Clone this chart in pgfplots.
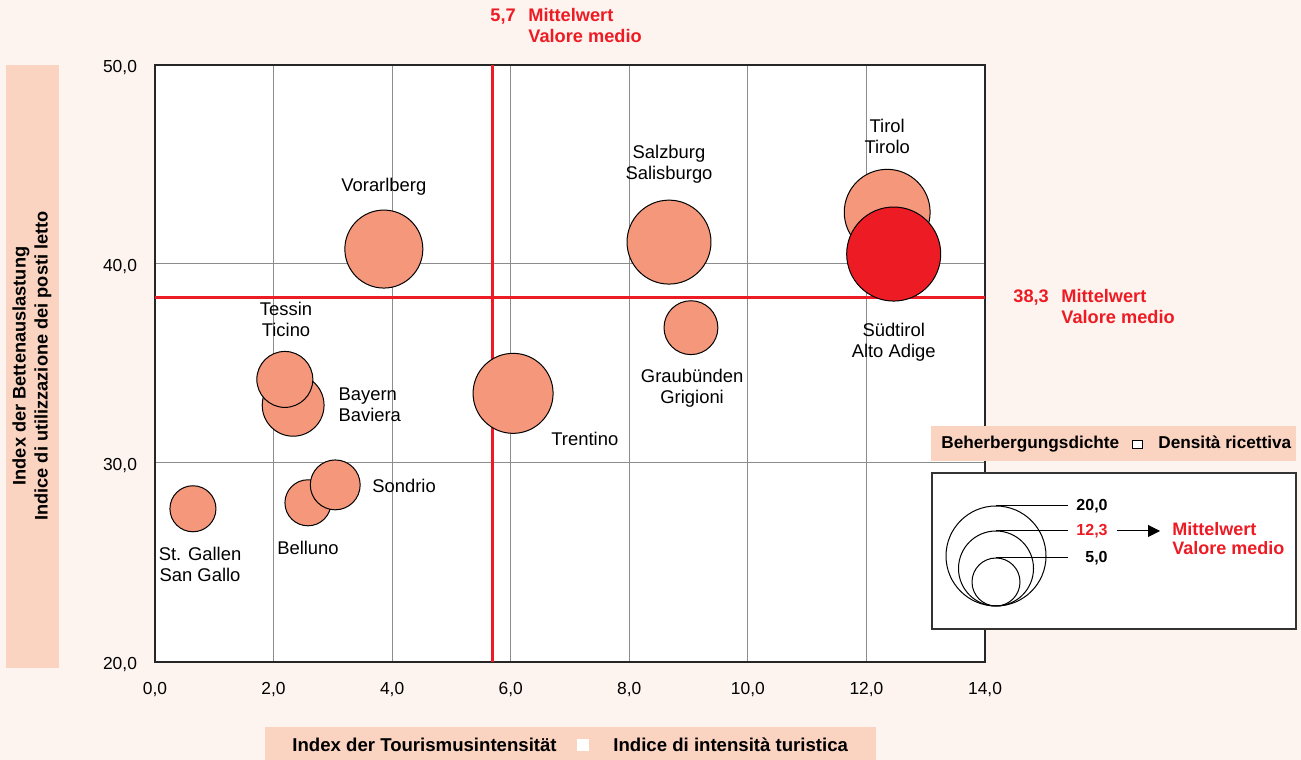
\documentclass[border=0pt]{standalone}
\usepackage{pgfplots}
\pgfplotsset{compat=1.18}
\usepackage{pgfplotstable}
\usepackage{fontspec}
\setmainfont{Liberation Sans}
\usetikzlibrary{arrows.meta}
\definecolor{bg}{HTML}{FEF4EF}
\definecolor{boxc}{HTML}{FBD3C1}
\definecolor{bub}{HTML}{F4977A}
\definecolor{mred}{HTML}{ED1C24}
\definecolor{gridc}{HTML}{8C8C8C}
\tikzset{lab/.style={font=\fontsize{9.2}{10.5}\selectfont, inner sep=0pt, align=center}}
\pgfplotstableread{
x y v
0.64 27.7 4.6
2.58 28.0 4.6
3.04 28.9 5.4
2.33 32.9 8.3
2.19 34.2 6.8
3.86 40.75 13.2
6.04 33.5 13.9
9.04 36.8 6.3
8.67 41.1 15.3
12.35 42.6 16.0
}\bubbles
\pgfplotstableread{
x y v
12.46 40.5 19.2
}\suedtirol
\begin{document}
\begin{tikzpicture}
\fill[bg] (0,0) rectangle (650.5pt,380pt);
\begin{scope}[x=0.5pt,y=-0.5pt,yshift=380pt]
% y label box
\fill[boxc] (6,65) rectangle (59,668);
\node[rotate=90,align=center,font=\fontsize{9.1}{11}\selectfont\bfseries] at (32,366)
  {Index der Bettenauslastung\\Indice di utilizzazione dei posti letto};
% x label box
\fill[boxc] (265,727) rectangle (876,760);
\node[anchor=base west,inner sep=0,font=\fontsize{9.3}{11}\selectfont\bfseries] at (292,751.5) {Index der Tourismusintensität};
\fill[white] (577,739) rectangle (589,751);
\node[anchor=base west,inner sep=0,font=\fontsize{9.3}{11}\selectfont\bfseries] at (613,751.5) {Indice di intensità turistica};
% mean annotations
\node[anchor=base west,inner sep=0,font=\fontsize{9.1}{11}\selectfont\bfseries,text=mred] at (490,22) {5,7};
\node[anchor=base west,inner sep=0,font=\fontsize{9.1}{11}\selectfont\bfseries,text=mred] at (528,22) {Mittelwert};
\node[anchor=base west,inner sep=0,font=\fontsize{9.1}{11}\selectfont\bfseries,text=mred] at (528,42.5) {Valore medio};
\node[anchor=base west,inner sep=0,font=\fontsize{9.1}{11}\selectfont\bfseries,text=mred] at (1013,302.5) {38,3};
\node[anchor=base west,inner sep=0,font=\fontsize{9.1}{11}\selectfont\bfseries,text=mred] at (1061,302.5) {Mittelwert};
\node[anchor=base west,inner sep=0,font=\fontsize{9.1}{11}\selectfont\bfseries,text=mred] at (1061,324) {Valore medio};
\end{scope}
\begin{axis}[at={(77.5pt,49pt)}, anchor=south west, scale only axis,
  width=415pt, height=298.5pt,
  xmin=0, xmax=14, ymin=20, ymax=50,
  xtick={0,2,4,6,8,10,12,14}, ytick={20,30,40,50},
  grid=major, major grid style={gridc, line width=0.5pt},
  major tick length=0pt,
  axis line style={line width=0.7pt, black!85},
  axis background/.style={fill=white},
  tick label style={font=\fontsize{8.7}{10}\selectfont},
  xticklabel style={yshift=-6.5pt},
  yticklabel style={xshift=-5.5pt,yshift=-1.5pt},
  /pgf/number format/.cd, use comma, fixed, fixed zerofill, precision=1, assume math mode=true,
  /pgfplots/.cd,
  clip=false]
\addplot[mred, line width=1.5pt] coordinates {(0,38.3) (14,38.3)};
\addplot[mred, line width=1.5pt] coordinates {(5.7,20) (5.7,50)};
\addplot[scatter, only marks, mark=*,
  scatter/use mapped color={draw=black, fill=bub},
  visualization depends on={5.366*sqrt(\thisrow{v}) \as \rad},
  scatter/@pre marker code/.append style={/tikz/mark size=\rad},
  mark options={line width=0.5pt}] table[x=x,y=y] \bubbles;
\addplot[scatter, only marks, mark=*,
  scatter/use mapped color={draw=black, fill=mred},
  visualization depends on={5.366*sqrt(\thisrow{v}) \as \rad},
  scatter/@pre marker code/.append style={/tikz/mark size=\rad},
  mark options={line width=0.5pt}] table[x=x,y=y] \suedtirol;
\node[lab] at (axis cs:3.86,43.87) {Vorarlberg};
\node[lab] at (axis cs:8.67,45.0) {Salzburg\\Salisburgo};
\node[lab] at (axis cs:12.35,46.41) {Tirol\\Tirolo};
\node[lab] at (axis cs:12.46,36.06) {Südtirol\\Alto Adige};
\node[lab] at (axis cs:9.06,33.77) {Graubünden\\Grigioni};
\node[lab,anchor=west] at (axis cs:6.68,31.21) {Trentino};
\node[lab] at (axis cs:2.21,37.19) {Tessin\\Ticino};
\node[lab,anchor=west,align=left] at (axis cs:3.09,32.94) {Bayern\\Baviera};
\node[lab,anchor=west] at (axis cs:3.66,28.84) {Sondrio};
\node[lab] at (axis cs:2.58,25.73) {Belluno};
\node[lab] at (axis cs:0.76,24.9) {St. Gallen\\San Gallo};
\end{axis}
\begin{scope}[x=0.5pt,y=-0.5pt,yshift=380pt]
% legend header
\fill[boxc] (931,426) rectangle (1296,461);
\node[anchor=base west,inner sep=0,font=\fontsize{8.6}{10}\selectfont\bfseries] at (941,449) {Beherbergungsdichte};
\draw[fill=white,line width=0.5pt] (1132,441) rectangle (1142,449);
\node[anchor=base west,inner sep=0,font=\fontsize{8.6}{10}\selectfont\bfseries] at (1158,449) {Densità ricettiva};
% legend box
\draw[fill=white,draw=black!80,line width=0.6pt] (932,473) rectangle (1296,629);
\draw[line width=0.5pt] (996,556) circle[radius=50];
\draw[line width=0.5pt] (996,568.5) circle[radius=37.5];
\draw[line width=0.5pt] (996,582) circle[radius=24];
\draw[line width=0.5pt] (996,506) -- (1068,506);
\draw[line width=0.5pt] (996,531) -- (1068,531);
\draw[line width=0.5pt] (996,558) -- (1068,558);
\node[anchor=base east,inner sep=0,font=\fontsize{8}{10}\selectfont\bfseries] at (1108,511) {20,0};
\node[anchor=base east,inner sep=0,font=\fontsize{8}{10}\selectfont\bfseries,text=mred] at (1108,536) {12,3};
\node[anchor=base east,inner sep=0,font=\fontsize{8}{10}\selectfont\bfseries] at (1108,563) {5,0};
\draw[line width=0.5pt,-{Triangle[length=6pt,width=6pt]}] (1117,531) -- (1160,531);
\node[anchor=base west,inner sep=0,font=\fontsize{9}{11}\selectfont\bfseries,text=mred] at (1172,536) {Mittelwert};
\node[anchor=base west,inner sep=0,font=\fontsize{9}{11}\selectfont\bfseries,text=mred] at (1172,555) {Valore medio};
\end{scope}
\end{tikzpicture}
\end{document}
